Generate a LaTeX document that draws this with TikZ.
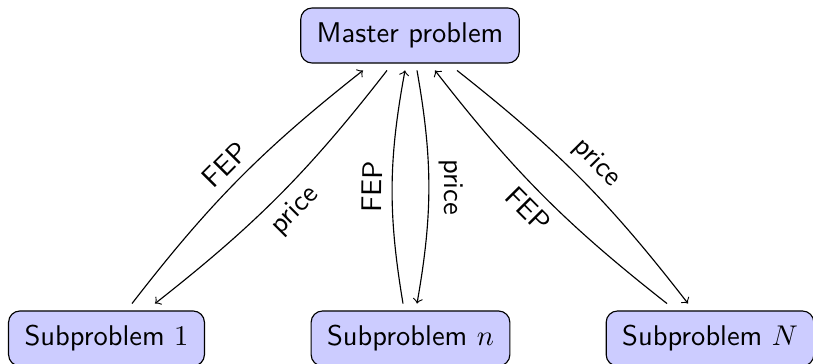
\documentclass[tikz,border=0pt]{standalone}
\usetikzlibrary{calc}
\begin{document}
\begin{tikzpicture}[x=0.3506pt,y=0.3506pt,
  box/.style={draw, rounded corners=4pt, fill=blue!20, font=\sffamily,
    inner xsep=5.6pt, minimum height=19.3pt, outer sep=2.6pt},
  conn/.style={->, bend left=#1},
  conn/.default=10,
  lab/.style={font=\sffamily, sloped, midway}]
\useasboundingbox (0,0) rectangle (813,364);
\node[box] (master) at (410,328.5) {Master problem};
\node[box] (sub1) at (106.5,25.5) {Subproblem $1$};
\node[box] (subn) at (410.5,25.5) {Subproblem $n$};
\node[box] (subN) at (710,25.5) {Subproblem $N$};
\draw[conn=7] ($(sub1.north)+(25.5,0)$) to node[lab, above] {FEP} ($(master.south)+(-47,0)$);
\draw[conn=7] ($(master.south)+(-23,0)$) to node[lab, below] {price} ($(sub1.north)+(48.5,0)$);
\draw[conn] ($(subn.north)+(-7.5,0)$) to node[lab, above] {FEP} ($(master.south)+(-5,0)$);
\draw[conn] ($(master.south)+(7,0)$) to node[lab, above] {price} ($(subn.north)+(6.5,0)$);
\draw[conn=7] ($(subN.north)+(-43,0)$) to node[lab, below] {FEP} ($(master.south)+(25,0)$);
\draw[conn=7] ($(master.south)+(47,0)$) to node[lab, above] {price} ($(subN.north)+(-22,0)$);
\end{tikzpicture}
\end{document}
